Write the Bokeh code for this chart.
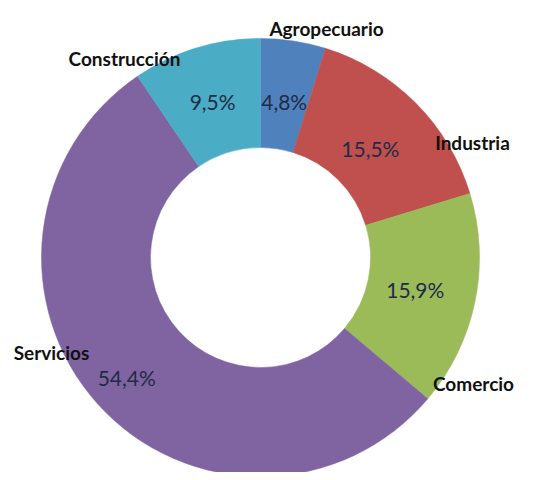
import math
from bokeh.plotting import figure
from bokeh.models import ColumnDataSource, Range1d
from bokeh.embed import file_html
from bokeh.resources import INLINE
from bokeh.core.properties import value

categories = ["Agropecuario", "Industria", "Comercio", "Servicios", "Construcción"]
shares = [4.8, 15.5, 15.9, 54.4, 9.5]
pct_labels = ["4,8%", "15,5%", "15,9%", "54,4%", "9,5%"]
colors = ["#4F81BD", "#C0504D", "#9BBB59", "#8064A2", "#4BACC6"]

# layout (reference pixel coordinates, y measured from the top of the image)
CX, CY = 260, 257
R_OUT, R_IN = 219, 110
pct_radius = [158, 155, 158, 180, 163]
name_pos = [(326, 28), (472, 142), (473, 383), (51, 352), (124, 58)]

H = 480
total = sum(shares)
starts, ends, px, py = [], [], [], []
cum = 0.0
for s, r in zip(shares, pct_radius):
    a0 = cum / total * 2 * math.pi
    a1 = (cum + s) / total * 2 * math.pi
    mid = (a0 + a1) / 2
    starts.append(math.pi / 2 - a0)
    ends.append(math.pi / 2 - a1)
    px.append(CX + r * math.sin(mid))
    py.append(H - (CY - r * math.cos(mid)))
    cum += s

src = ColumnDataSource(dict(start=starts, end=ends, color=colors, cat=categories))

p = figure(width=531, height=472, output_backend="svg", toolbar_location=None,
           x_range=Range1d(0, 531), y_range=Range1d(8, 480), min_border=0)
p.axis.visible = False
p.grid.visible = False
p.outline_line_color = None
p.background_fill_color = "white"
p.border_fill_color = "white"

p.annular_wedge(x=CX, y=H - CY, inner_radius=R_IN, outer_radius=R_OUT,
                start_angle="start", end_angle="end", direction="clock",
                fill_color="color", line_color="color", line_width=0.5, source=src)

p.text(x=px, y=py, text=pct_labels, text_align="center", text_baseline="middle",
       text_font=value("Lato"), text_font_size="21px", text_color="#1F2B45")

p.text(x=[q[0] for q in name_pos], y=[H - q[1] for q in name_pos], text=categories,
       text_align="center", text_baseline="middle",
       text_font=value("Lato"), text_font_size="19px", text_font_style="bold",
       text_color="#111111")

open("out.html", "w").write(file_html(p, INLINE))
